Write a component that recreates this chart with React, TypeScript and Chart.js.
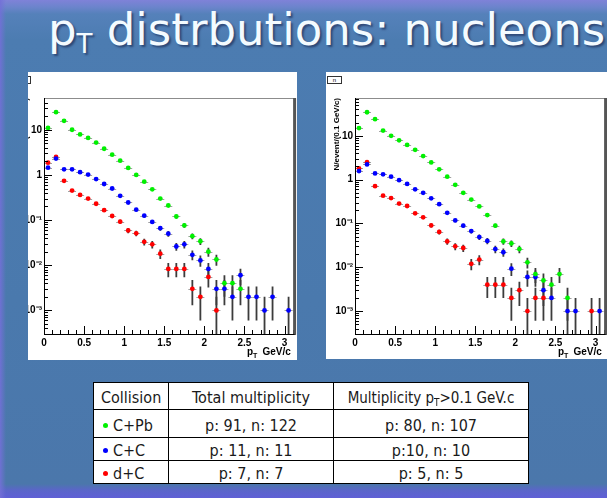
import React, { useEffect, useRef } from "react";
import { Chart, registerables } from "chart.js";

Chart.register(...registerables);

// ---------- data ----------
const ptBins = [0.05, 0.15, 0.25, 0.35, 0.45, 0.55, 0.65, 0.75, 0.85, 0.95, 1.05, 1.15, 1.25, 1.35, 1.45, 1.55, 1.65, 1.75, 1.85, 1.95, 2.05, 2.15, 2.25, 2.35, 2.45, 2.55, 2.65, 2.75, 2.85, 2.95, 3.05];

const seriesNames = ["C+Pb", "C+C", "d+C"];
const seriesColors = ["#00f000", "#0000ff", "#ff0000"];

// protons
const pCPb = [11, 24.5, 15.8, 10, 7.9, 6.6, 5.2, 3.8, 2.8, 2.07, 1.43, 1.0, 0.71, 0.48, 0.3, 0.21, 0.12, 0.076, 0.044, 0.034, 0.02, 0.0134, 0.004, 0.004, 0.003, null, null, null, null, null, null];
const pCPbErr = [0.1, 0.16, 0.13, 0.1, 0.09, 0.08, 0.07, 0.06, 0.05, 0.045, 0.038, 0.032, 0.027, 0.022, 0.017, 0.0145, 0.011, 0.0087, 0.0066, 0.0058, 0.0045, 0.0037, 0.002, 0.002, 0.0017, null, null, null, null, null, null];
const pCC = [1.45, 2.3, 1.33, 1.33, 1.15, 1.02, 0.81, 0.63, 0.5, 0.345, 0.245, 0.17, 0.125, 0.091, 0.066, 0.05, 0.026, 0.029, 0.017, 0.0128, 0.0083, 0.003, 0.003, 0.002, 0.006, 0.002, 0.002, 0.001, 0.002, null, 0.001];
const pCCErr = [0.038, 0.048, 0.036, 0.036, 0.034, 0.032, 0.028, 0.025, 0.022, 0.019, 0.016, 0.013, 0.011, 0.0095, 0.0081, 0.0071, 0.0051, 0.0054, 0.0041, 0.0036, 0.0029, 0.0017, 0.0017, 0.0014, 0.0024, 0.0014, 0.0014, 0.001, 0.0014, null, 0.001];
const pdC = [1.87, 2.5, 0.74, 0.45, 0.36, 0.3, 0.23, 0.166, 0.123, 0.092, 0.059, 0.051, 0.033, 0.029, 0.018, 0.0083, 0.0083, 0.0083, 0.003, 0.002, 0.0055, 0.001, null, null, null, null, null, null, null, null, null];
const pdCErr = [0.043, 0.05, 0.027, 0.021, 0.019, 0.017, 0.015, 0.013, 0.011, 0.0096, 0.0077, 0.0071, 0.0057, 0.0054, 0.0042, 0.0029, 0.0029, 0.0029, 0.0017, 0.0014, 0.0023, 0.001, null, null, null, null, null, null, null, null, null];

// neutrons
const nCPb = [15, 34.5, 24, 13.2, 10, 7.9, 6.2, 4.8, 3.45, 2.47, 1.72, 1.17, 0.76, 0.5, 0.35, 0.245, 0.155, 0.089, 0.039, 0.035, 0.026, 0.013, 0.007, 0.005, 0.004, 0.007, 0.002, null, null, null, null];
const nCPbErr = [0.12, 0.19, 0.155, 0.115, 0.1, 0.089, 0.079, 0.069, 0.059, 0.05, 0.041, 0.034, 0.028, 0.022, 0.019, 0.016, 0.012, 0.0094, 0.0062, 0.0059, 0.0051, 0.0036, 0.0026, 0.0022, 0.002, 0.0026, 0.0014, null, null, null, null];
const nCC = [1.57, 2.23, 1.39, 1.32, 1.17, 0.97, 0.8, 0.6, 0.5, 0.375, 0.275, 0.175, 0.117, 0.089, 0.067, 0.049, 0.04, 0.026, 0.022, 0.0093, null, 0.006, 0.006, 0.003, 0.002, null, 0.001, 0.001, null, null, 0.001];
const nCCErr = [0.04, 0.047, 0.037, 0.036, 0.034, 0.031, 0.028, 0.024, 0.022, 0.019, 0.017, 0.013, 0.011, 0.0094, 0.0082, 0.007, 0.0063, 0.0051, 0.0047, 0.003, null, 0.0024, 0.0024, 0.0017, 0.0014, null, 0.001, 0.001, null, null, 0.001];
const ndC = [1.8, 2.5, 0.71, 0.43, 0.38, 0.285, 0.25, 0.17, 0.138, 0.09, 0.064, 0.039, 0.03, 0.0275, 0.012, 0.015, 0.004, 0.004, 0.004, 0.002, 0.003, 0.001, 0.002, 0.002, null, null, null, null, null, 0.001, null];
const ndCErr = [0.042, 0.05, 0.027, 0.021, 0.019, 0.017, 0.016, 0.013, 0.012, 0.0095, 0.008, 0.0062, 0.0055, 0.0052, 0.0035, 0.0039, 0.002, 0.002, 0.002, 0.0014, 0.0017, 0.001, 0.0014, 0.0014, null, null, null, null, null, 0.001, null];

const xTickValues = [0, 0.5, 1, 1.5, 2, 2.5, 3];
const xTickLabels = ["0", "0.5", "1", "1.5", "2", "2.5", "3"];
const yTickValues = [0.001, 0.01, 0.1, 1, 10];
const yTickLabels = ["10\u207B\u00B3", "10\u207B\u00B2", "10\u207B\u00B9", "1", "10"];
const BIN_HALF_WIDTH = 0.05;
const X_MAX = 3.125;
const protonYRange = [3.3e-4, 50.5];
const neutronYRange = [3.2e-4, 73];

// table
const tableHeaders = ["Collision", "Total multiplicity", "Multiplicity"];
const totalMultiplicity = ["p: 91, n: 122", "p: 11, n: 11", "p: 7, n: 7"];
const cutMultiplicity = ["p: 80, n: 107", "p:10, n: 10", "p: 5, n: 5"];

// ---------- chart ----------
const LABEL_FONT = { family: "'Liberation Sans', Arial, sans-serif", size: 10, weight: "bold" as const };

const rootStylePlugin = {
  id: "rootStyle",
  beforeDatasetsDraw(chart: any) {
    const { ctx, chartArea: a, scales } = chart;
    const xs = scales.x;
    const ys = scales.y;
    ctx.save();
    ctx.beginPath();
    ctx.rect(a.left, a.top, a.right - a.left, a.bottom - a.top);
    ctx.clip();
    chart.data.datasets.forEach((ds: any) => {
      ds.data.forEach((p: any) => {
        const px = xs.getPixelForValue(p.x);
        const py = ys.getPixelForValue(p.y);
        ctx.strokeStyle = "#a0a0a0";
        ctx.lineWidth = 1;
        ctx.beginPath();
        ctx.moveTo(xs.getPixelForValue(p.x - BIN_HALF_WIDTH), Math.round(py) + 0.5);
        ctx.lineTo(xs.getPixelForValue(p.x + BIN_HALF_WIDTH), Math.round(py) + 0.5);
        ctx.stroke();
        if (p.e) {
          const lo = p.y - p.e;
          const yLo = lo > 0 ? ys.getPixelForValue(lo) : a.bottom + 4;
          const yHi = ys.getPixelForValue(p.y + p.e);
          ctx.strokeStyle = "#3c3c3c";
          ctx.lineWidth = 1.8;
          ctx.beginPath();
          ctx.moveTo(px, yHi);
          ctx.lineTo(px, yLo);
          ctx.stroke();
        }
      });
    });
    ctx.restore();
  },
  afterDraw(chart: any) {
    const { ctx, chartArea: a, scales } = chart;
    const xs = scales.x;
    const ys = scales.y;
    ctx.save();
    ctx.strokeStyle = "#000";
    ctx.lineWidth = 1;
    const line = (x1: number, y1: number, x2: number, y2: number) => {
      ctx.beginPath();
      ctx.moveTo(x1, y1);
      ctx.lineTo(x2, y2);
      ctx.stroke();
    };
    const lmin = Math.floor(Math.log10(ys.min));
    const lmax = Math.ceil(Math.log10(ys.max));
    for (let n = lmin; n <= lmax; n++) {
      for (let k = 1; k <= 9; k++) {
        const v = k * Math.pow(10, n);
        if (v < ys.min || v > ys.max) continue;
        const py = Math.round(ys.getPixelForValue(v)) + 0.5;
        line(a.left, py, a.left + (k === 1 ? 8 : 4), py);
      }
    }
    for (let i = 0; i / 10 <= xs.max + 1e-9; i++) {
      const px = Math.round(xs.getPixelForValue(i / 10)) + 0.5;
      line(px, a.bottom, px, a.bottom - (i % 5 === 0 ? 8 : 4));
    }
    // frame
    ctx.strokeStyle = "#8c8c8c";
    line(a.left, Math.round(a.top) + 0.5, a.right, Math.round(a.top) + 0.5);
    ctx.strokeStyle = "#555";
    ctx.lineWidth = 3;
    line(a.right, a.top, a.right, a.bottom + 1);
    ctx.strokeStyle = "#000";
    ctx.lineWidth = 1;
    line(Math.round(a.left) + 0.5, a.top, Math.round(a.left) + 0.5, a.bottom + 1);
    line(a.left, Math.round(a.bottom) + 0.5, a.right, Math.round(a.bottom) + 0.5);
    ctx.restore();
  },
};

type Series = (number | null)[];

function PtChart({ series, errors, yRange }: { series: Series[]; errors: Series[]; yRange: number[] }) {
  const ref = useRef<HTMLCanvasElement>(null);
  useEffect(() => {
    if (!ref.current) return;
    const datasets = series.map((vals, si) => ({
      label: seriesNames[si],
      data: ptBins
        .map((x, i) => (vals[i] == null ? null : { x, y: vals[i] as number, e: errors[si][i] }))
        .filter((p) => p !== null),
      backgroundColor: seriesColors[si],
      borderColor: seriesColors[si],
      pointRadius: 2.4,
      pointHoverRadius: 2.4,
      pointBorderWidth: 0,
      showLine: false,
    }));
    const chart = new Chart(ref.current, {
      type: "scatter",
      data: { datasets: datasets as any },
      options: {
        responsive: false,
        animation: false,
        events: [],
        layout: { padding: { top: 26, right: 2, left: 0, bottom: 0 } },
        plugins: { legend: { display: false }, tooltip: { enabled: false } },
        scales: {
          x: {
            type: "linear",
            min: 0,
            max: X_MAX,
            grid: { display: false, drawTicks: false },
            border: { display: false },
            afterBuildTicks: (s: any) => {
              s.ticks = xTickValues.map((v) => ({ value: v }));
            },
            afterFit: (s: any) => {
              s.height = 26;
            },
            ticks: {
              autoSkip: false,
              maxRotation: 0,
              padding: 3,
              color: "#000",
              font: LABEL_FONT,
              callback: (_v: any, i: number) => xTickLabels[i],
            },
          },
          y: {
            type: "logarithmic",
            min: yRange[0],
            max: yRange[1],
            grid: { display: false, drawTicks: false },
            border: { display: false },
            afterBuildTicks: (s: any) => {
              s.ticks = yTickValues.map((v) => ({ value: v }));
            },
            afterFit: (s: any) => {
              s.width = 29;
            },
            ticks: {
              autoSkip: false,
              padding: 2,
              color: "#000",
              font: LABEL_FONT,
              callback: (_v: any, i: number) => yTickLabels[i],
            },
            title: {
              display: true,
              text: "N/event/(0.1 GeV/c)",
              align: "end",
              color: "#000",
              font: { family: "'Liberation Sans', Arial, sans-serif", size: 8, weight: "bold" },
              padding: { top: 6, bottom: 0 },
            },
          },
        },
      } as any,
      plugins: [rootStylePlugin],
    });
    return () => chart.destroy();
  }, []);
  return <canvas ref={ref} width={282} height={288} style={{ position: "absolute", left: 0, top: 0 }} />;
}

function Panel({ tag, left, width, offset, height, series, errors, yRange }: any) {
  return (
    <div style={{ position: "absolute", left, top: 72, width, height, overflow: "hidden", background: "#fff" }}>
      <div style={{ position: "absolute", left: offset, top: 0, width: 282, height: 288 }}>
        <PtChart series={series} errors={errors} yRange={yRange} />
        <div
          style={{
            position: "absolute",
            left: 1,
            top: 4,
            width: 13,
            height: 6,
            border: "1px solid #333",
            fontFamily: "'Liberation Sans', Arial, sans-serif",
            fontSize: 6,
            lineHeight: "6px",
            textAlign: "center",
            color: "#000",
            background: "#fff",
          }}
        >
          {tag}
        </div>
        <div
          style={{
            position: "absolute",
            left: 232,
            top: 275,
            whiteSpace: "nowrap",
            fontFamily: "'Liberation Sans', Arial, sans-serif",
            fontWeight: "bold",
            fontSize: 10,
            lineHeight: "10px",
            color: "#000",
          }}
        >
          p<span style={{ fontSize: 7, position: "relative", top: 3 }}>T</span>
          <span style={{ marginLeft: 5 }}>GeV/c</span>
        </div>
      </div>
    </div>
  );
}

const TABLE_FONT = "'DejaVu Sans Condensed', 'DejaVu Sans', sans-serif";

export default function App() {
  const cell: React.CSSProperties = {
    border: "1px solid #000",
    padding: "3px 0 0 0",
    textAlign: "center",
    verticalAlign: "middle",
    whiteSpace: "nowrap",
  };
  const rowHeights = [27, 28, 23, 23];
  return (
    <div
      style={{
        position: "fixed",
        left: 0,
        top: 0,
        width: 607,
        height: 498,
        overflow: "hidden",
        background:
          "linear-gradient(to right, rgba(115,112,215,0.9) 0px, rgba(115,112,215,0) 6px), linear-gradient(to bottom, #7f82d8 0px, #6c84cc 7px, #5581ba 14px, #4c7cb1 40px, #4a79ad 300px, #4b77ab 484px, #5a66c8 490px, #5f5fd6 498px)",
      }}
    >
      <div
        style={{
          position: "absolute",
          left: 48,
          top: 7,
          whiteSpace: "nowrap",
          fontFamily: "'DejaVu Sans', sans-serif",
          fontSize: 45,
          lineHeight: "45px",
          color: "#f4fbff",
          textShadow: "2px 2px 2px rgba(20,30,70,0.55)",
        }}
      >
        p<span style={{ fontSize: 26, position: "relative", top: 8 }}>T</span> distrbutions: nucleons
      </div>

      <Panel tag="p" left={28} width={269} offset={-13} height={288} series={[pCPb, pCC, pdC]} errors={[pCPbErr, pCCErr, pdCErr]} yRange={protonYRange} />
      <Panel tag="n" left={326} width={281} offset={0} height={287} series={[nCPb, nCC, ndC]} errors={[nCPbErr, nCCErr, ndCErr]} yRange={neutronYRange} />

      <table
        style={{
          position: "absolute",
          left: 93,
          top: 382,
          width: 435,
          borderCollapse: "collapse",
          tableLayout: "fixed",
          background: "#fff",
          fontFamily: TABLE_FONT,
          fontStretch: "condensed",
          fontSize: 16,
          color: "#1a1a1a",
        }}
      >
        <colgroup>
          <col style={{ width: 75 }} />
          <col style={{ width: 165 }} />
          <col style={{ width: 195 }} />
        </colgroup>
        <tbody>
          <tr style={{ height: rowHeights[0] }}>
            <td style={{ ...cell, textAlign: "left", paddingLeft: 7 }}>{tableHeaders[0]}</td>
            <td style={cell}>{tableHeaders[1]}</td>
            <td style={{ ...cell, fontSize: 15 }}>
              {tableHeaders[2]} p<span style={{ fontSize: 10, position: "relative", top: 3 }}>T</span>&gt;0.1 GeV.c
            </td>
          </tr>
          {seriesNames.map((name, i) => (
            <tr key={name} style={{ height: rowHeights[i + 1] }}>
              <td style={{ ...cell, textAlign: "left", paddingLeft: 9 }}>
                <span
                  style={{
                    display: "inline-block",
                    width: 5,
                    height: 5,
                    borderRadius: "50%",
                    background: seriesColors[i],
                    marginRight: 5,
                    position: "relative",
                    top: -3,
                  }}
                />
                {name}
              </td>
              <td style={cell}>{totalMultiplicity[i]}</td>
              <td style={cell}>{cutMultiplicity[i]}</td>
            </tr>
          ))}
        </tbody>
      </table>
    </div>
  );
}
